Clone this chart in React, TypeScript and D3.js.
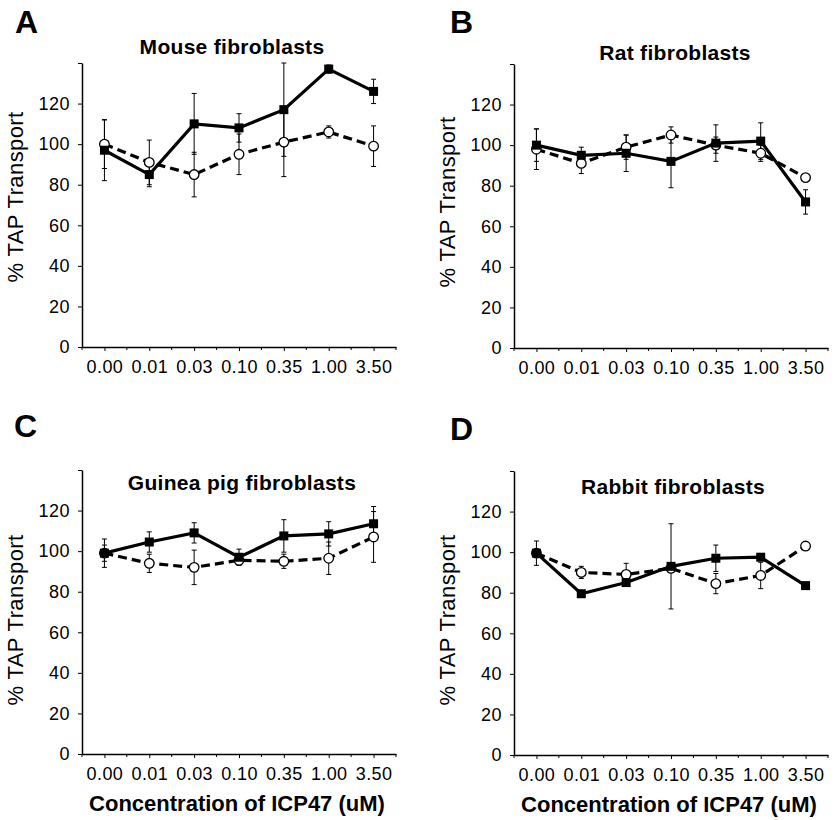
import React, { useRef, useEffect } from 'react';
import * as d3 from 'd3';

// ICP47 concentrations (uM), shared x categories
const concentrations = ['0.00', '0.01', '0.03', '0.10', '0.35', '1.00', '3.50'];
const yTicks = [0, 20, 40, 60, 80, 100, 120, 140];

// A - mouse
const mouseSolid = [97, 85, 110, 108, 117, 137, 126];
const mouseSolidErr = [15, 6, 15, 7, 23, 2, 6];
const mouseOpen = [100, 91, 85, 95, 101, 106, 99];
const mouseOpenErr = [12, 11, 11, 10, 17, 3, 10];

// B - rat
const ratSolid = [100, 95, 96, 92, 101, 102, 72];
const ratSolidErr = [8, 4, 9, 13, 9, 9, 6];
const ratOpen = [98, 91, 99, 105, 100, 96, 84];
const ratOpenErr = [10, 5, 6, 4, 4, 4, 0];

// C - guinea pig
const guineaSolid = [99, 104.5, 109, 97, 107.5, 108.5, 113.5];
const guineaSolidErr = [7, 5, 5, 4, 8, 6, 8.5];
const guineaOpen = [99, 94, 92, 95.5, 95, 96.5, 107];
const guineaOpenErr = [4, 4.5, 8.5, 0, 3.5, 8, 12.5];

// D - rabbit
const rabbitSolid = [99.5, 79.5, 85, 93, 97, 97.5, 83.5];
const rabbitSolidErr = [6, 1, 1, 21, 6.5, 1, 1];
const rabbitOpen = [99.5, 90, 89, 92, 84.5, 88.5, 103];
const rabbitOpenErr = [0, 3, 5.5, 0, 5, 6.5, 0];

const panels = [
    { letter: 'A', title: 'Mouse fibroblasts', solid: mouseSolid, solidErr: mouseSolidErr, open: mouseOpen, openErr: mouseOpenErr,
      x: 82, y: 63, titleX: 150, titleY: -9, letterX: -67, letterY: -30, yLabelY: 134, xLabel: false },
    { letter: 'B', title: 'Rat fibroblasts', solid: ratSolid, solidErr: ratSolidErr, open: ratOpen, openErr: ratOpenErr,
      x: 514, y: 64, titleX: 161, titleY: -4, letterX: -64, letterY: -31, yLabelY: 138, xLabel: false },
    { letter: 'C', title: 'Guinea pig fibroblasts', solid: guineaSolid, solidErr: guineaSolidErr, open: guineaOpen, openErr: guineaOpenErr,
      x: 82, y: 470, titleX: 160, titleY: 20, letterX: -68, letterY: -33, yLabelY: 150, xLabel: true, xLabelX: 155, xLabelY: 341 },
    { letter: 'D', title: 'Rabbit fibroblasts', solid: rabbitSolid, solidErr: rabbitSolidErr, open: rabbitOpen, openErr: rabbitOpenErr,
      x: 514, y: 471, titleX: 159, titleY: 23, letterX: -64, letterY: -31, yLabelY: 149, xLabel: true, xLabelX: 155, xLabelY: 341 },
];

const FONT = '"Liberation Sans", Arial, Helvetica, sans-serif';

const App = () => {
    const svgRef = useRef(null);
    const width = 835;
    const height = 820;

    useEffect(() => {
        const svg = d3.select(svgRef.current);
        svg.selectAll('*').remove();

        const innerWidth = 314;
        const innerHeight = 284;

        const band = d3.scaleBand().domain(concentrations).range([0, innerWidth]).padding(0);
        const xScale = d3.scalePoint().domain(concentrations).range([0, innerWidth]).padding(0.5);
        const yScale = d3.scaleLinear().domain([0, 140]).range([innerHeight, 0]);

        panels.forEach(p => {
            const g = svg.append('g').attr('transform', `translate(${p.x}, ${p.y})`);

            // panel letter
            g.append('text')
                .attr('x', p.letterX).attr('y', p.letterY)
                .attr('font-family', FONT).attr('font-weight', 'bold').attr('font-size', 32)
                .text(p.letter);

            // title
            g.append('text')
                .attr('x', p.titleX).attr('y', p.titleY)
                .attr('text-anchor', 'middle')
                .attr('font-family', FONT).attr('font-weight', 'bold').attr('font-size', 21)
                .attr('letter-spacing', 0.3)
                .text(p.title);

            // y axis
            const yAxis = d3.axisLeft(yScale)
                .tickValues(yTicks)
                .tickSize(4)
                .tickSizeOuter(0)
                .tickPadding(8)
                .tickFormat(d => (d === 140 ? '' : String(d)));
            const ya = g.append('g').call(yAxis);
            ya.select('.domain').attr('stroke-width', 1.5);
            ya.selectAll('text').attr('font-family', FONT).attr('font-size', 18).attr('fill', '#000')
                .attr('letter-spacing', 0.5);

            // x axis
            const xAxis = d3.axisBottom(xScale).tickSize(4).tickSizeOuter(0).tickPadding(9);
            const xa = g.append('g').attr('transform', `translate(0, ${innerHeight})`).call(xAxis);
            xa.select('.domain').attr('stroke-width', 1.5);
            xa.selectAll('text').attr('font-family', FONT).attr('font-size', 18).attr('fill', '#000')
                .attr('letter-spacing', 0.4);
            // minor ticks at band edges
            xa.selectAll('.minor')
                .data(concentrations.concat(['end']))
                .enter()
                .append('line')
                .attr('class', 'minor')
                .attr('x1', d => (d === 'end' ? innerWidth : band(d)))
                .attr('x2', d => (d === 'end' ? innerWidth : band(d)))
                .attr('y1', 0).attr('y2', 3)
                .attr('stroke', '#000');

            // y label
            g.append('text')
                .attr('transform', `translate(-59, ${p.yLabelY}) rotate(-90)`)
                .attr('text-anchor', 'middle')
                .attr('font-family', FONT).attr('font-size', 22)
                .attr('letter-spacing', 0.4)
                .text('% TAP Transport');

            if (p.xLabel) {
                g.append('text')
                    .attr('x', p.xLabelX).attr('y', p.xLabelY)
                    .attr('text-anchor', 'middle')
                    .attr('font-family', FONT).attr('font-weight', 'bold').attr('font-size', 22)
                    .text('Concentration of ICP47 (uM)');
            }

            const series = [
                { values: p.open, errs: p.openErr },
                { values: p.solid, errs: p.solidErr },
            ];

            // error bars
            series.forEach(s => {
                const pts = concentrations.map((c, i) => ({ c, v: s.values[i], e: s.errs[i] })).filter(d => d.e > 0);
                const eb = g.append('g');
                eb.selectAll('.bar').data(pts).enter().append('line')
                    .attr('x1', d => xScale(d.c)).attr('x2', d => xScale(d.c))
                    .attr('y1', d => yScale(d.v - d.e)).attr('y2', d => yScale(d.v + d.e))
                    .attr('stroke', '#000').attr('stroke-width', 1);
                eb.selectAll('.capTop').data(pts).enter().append('line')
                    .attr('x1', d => xScale(d.c) - 2.5).attr('x2', d => xScale(d.c) + 2.5)
                    .attr('y1', d => yScale(d.v + d.e)).attr('y2', d => yScale(d.v + d.e))
                    .attr('stroke', '#000').attr('stroke-width', 1);
                eb.selectAll('.capBot').data(pts).enter().append('line')
                    .attr('x1', d => xScale(d.c) - 2.5).attr('x2', d => xScale(d.c) + 2.5)
                    .attr('y1', d => yScale(d.v - d.e)).attr('y2', d => yScale(d.v - d.e))
                    .attr('stroke', '#000').attr('stroke-width', 1);
            });

            const line = d3.line()
                .x((d, i) => xScale(concentrations[i]))
                .y(d => yScale(d));

            // dashed (open circles)
            g.append('path')
                .datum(p.open)
                .attr('d', line)
                .attr('fill', 'none').attr('stroke', '#000')
                .attr('stroke-width', 3.2).attr('stroke-dasharray', '9,5');

            g.selectAll('.circ').data(p.open).enter().append('circle')
                .attr('cx', (d, i) => xScale(concentrations[i]))
                .attr('cy', d => yScale(d))
                .attr('r', 4.8)
                .attr('fill', '#fff').attr('stroke', '#000').attr('stroke-width', 1.3);

            // solid (filled squares)
            g.append('path')
                .datum(p.solid)
                .attr('d', line)
                .attr('fill', 'none').attr('stroke', '#000')
                .attr('stroke-width', 3.2);

            g.selectAll('.sq').data(p.solid).enter().append('rect')
                .attr('x', (d, i) => xScale(concentrations[i]) - 4.5)
                .attr('y', d => yScale(d) - 4.5)
                .attr('width', 9).attr('height', 9)
                .attr('fill', '#000');
        });
    }, []);

    return (
        <svg ref={svgRef} width={width} height={height}
            style={{ position: 'absolute', left: 0, top: 0, background: '#fff' }}></svg>
    );
};

export default App;
